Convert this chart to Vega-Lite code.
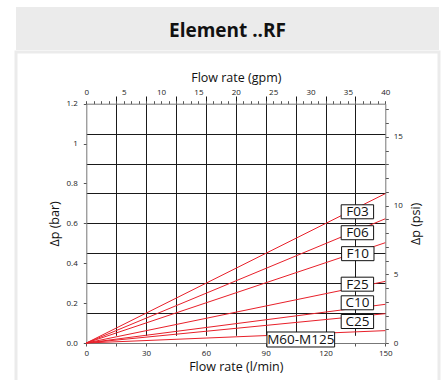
{
  "$schema": "https://vega.github.io/schema/vega-lite/v6.json",
  "padding": {"left": 14, "top": 7, "right": 8, "bottom": 0},
  "background": "white",
  "spacing": 0,
  "config": {
    "font": "Open Sans",
    "view": {"stroke": null},
    "axis": {
      "labelFont": "Open Sans", "labelFontSize": 8, "labelColor": "#222",
      "titleFont": "Open Sans", "titleFontSize": 12.5, "titleFontWeight": "normal", "titleColor": "#111",
      "domainColor": "#777", "tickColor": "#555", "tickSize": 3, "gridColor": "#1a1a1a", "gridWidth": 1,
      "labelOverlap": false, "labelFlush": false, "labelBound": false
    }
  },
  "datasets": {
    "lines": [
      {"series": "F03", "q": 0, "dp": 0}, {"series": "F03", "q": 150, "dp": 0.749},
      {"series": "F06", "q": 0, "dp": 0}, {"series": "F06", "q": 150, "dp": 0.623},
      {"series": "F10", "q": 0, "dp": 0}, {"series": "F10", "q": 150, "dp": 0.503},
      {"series": "F25", "q": 0, "dp": 0}, {"series": "F25", "q": 150, "dp": 0.309},
      {"series": "C10", "q": 0, "dp": 0}, {"series": "C10", "q": 150, "dp": 0.194},
      {"series": "C25", "q": 0, "dp": 0}, {"series": "C25", "q": 150, "dp": 0.147},
      {"series": "M60-M125", "q": 0, "dp": 0}, {"series": "M60-M125", "q": 150, "dp": 0.062}
    ],
    "labels": [
      {"label": "F03", "q": 136, "dp": 0.658},
      {"label": "F06", "q": 136, "dp": 0.553},
      {"label": "F10", "q": 136.2, "dp": 0.448},
      {"label": "F25", "q": 136, "dp": 0.295},
      {"label": "C10", "q": 136, "dp": 0.2016},
      {"label": "C25", "q": 136, "dp": 0.1078},
      {"label": "M60-M125", "q": 107.6, "dp": 0.0176}
    ],
    "title": [{"title": "Element ..RF"}],
    "anchor": [{"gpm": 0, "psi": 0, "q": 0, "dp": 0}]
  },
  "vconcat": [
    {
      "width": 423, "height": 43,
      "view": {"fill": "#ebebeb", "stroke": null},
      "data": {"name": "title"},
      "mark": {"type": "text", "font": "Open Sans", "fontSize": 19, "fontWeight": "bold", "color": "#111", "dy": 2},
      "encoding": {"text": {"field": "title", "type": "nominal"}}
    },
    {
      "width": 423, "height": 335,
      "view": {"fill": "white", "stroke": "#ebebeb", "strokeWidth": 3},
      "layer": [
        {
          "data": {"name": "anchor"},
          "mark": {"type": "point", "opacity": 0},
          "encoding": {
            "x": {"field": "q", "type": "quantitative",
              "scale": {"domain": [0, 150], "range": [70.3, 369.3], "nice": false, "zero": false},
              "axis": null},
            "y": {"field": "dp", "type": "quantitative",
              "scale": {"domain": [0, 1.2], "range": [291, 51.7], "nice": false, "zero": false},
              "axis": {"orient": "left", "offset": -70.3, "title": null,
                "values": [0.15,0.3,0.45,0.6,0.75,0.9,1.05],
                "labels": false, "ticks": false, "domain": false, "grid": true}}
          }
        },
        {
          "layer": [
            {
              "data": {"name": "lines"},
              "mark": {"type": "line", "color": "#e8202a", "strokeWidth": 1},
              "encoding": {
                "x": {"field": "q", "type": "quantitative",
                  "scale": {"domain": [0, 150], "range": [70.3, 369.3], "nice": false, "zero": false},
                  "axis": {"orient": "bottom", "offset": -44, "title": "Flow rate (l/min)",
                    "values": [0,7.5,15,22.5,30,37.5,45,52.5,60,67.5,75,82.5,90,97.5,105,112.5,120,127.5,135,142.5,150],
                    "labelExpr": "datum.value % 30 === 0 ? datum.label : ''",
                    "grid": true,
                    "gridOpacity": {"condition": {"test": "datum.value % 15 === 0 && datum.value > 0 && datum.value < 150", "value": 1}, "value": 0},
                    "labelPadding": 3, "titlePadding": 3}},
                "y": {"field": "dp", "type": "quantitative",
                  "scale": {"domain": [0, 1.2], "range": [291, 51.7], "nice": false, "zero": false},
                  "axis": {"orient": "left", "offset": -70.3, "title": "Δp (bar)",
                    "values": [0,0.1,0.2,0.3,0.4,0.5,0.6,0.7,0.8,0.9,1,1.1,1.2],
                    "labelExpr": "round(datum.value*10) % 2 === 0 ? (datum.value === 0 ? '0.0' : (datum.value === 1 ? '1' : format(datum.value, '.1f'))) : ''",
                    "grid": false,
                    "labelPadding": 6, "titlePadding": 5}},
                "detail": {"field": "series", "type": "nominal"}
              }
            },
            {
              "data": {"name": "labels"},
              "transform": [{"filter": "datum.label !== 'M60-M125'"}],
              "mark": {"type": "point", "shape": "M-1,-0.432H1V0.432H-1Z", "size": 1050, "filled": true, "fill": "white", "stroke": "#111", "strokeWidth": 1, "opacity": 1},
              "encoding": {
                "x": {"field": "q", "type": "quantitative"},
                "y": {"field": "dp", "type": "quantitative"}
              }
            },
            {
              "data": {"name": "labels"},
              "transform": [{"filter": "datum.label === 'M60-M125'"}],
              "mark": {"type": "point", "shape": "M-1,-0.2216H1V0.2216H-1Z", "size": 4583, "filled": true, "fill": "white", "stroke": "#111", "strokeWidth": 1, "opacity": 1},
              "encoding": {
                "x": {"field": "q", "type": "quantitative"},
                "y": {"field": "dp", "type": "quantitative"}
              }
            },
            {
              "data": {"name": "labels"},
              "mark": {"type": "text", "font": "Open Sans", "fontSize": 13.5, "color": "#111", "align": "center", "baseline": "middle", "dy": 0.5},
              "encoding": {
                "x": {"field": "q", "type": "quantitative"},
                "y": {"field": "dp", "type": "quantitative"},
                "text": {"field": "label", "type": "nominal"}
              }
            }
          ]
        },
        {
          "data": {"name": "anchor"},
          "mark": {"type": "point", "opacity": 0},
          "encoding": {
            "x": {"field": "gpm", "type": "quantitative",
              "scale": {"domain": [0, 40], "range": [70.3, 369.3], "nice": false, "zero": false},
              "axis": {"orient": "top", "offset": -51.7, "title": "Flow rate (gpm)",
                "values": [0,1,2,3,4,5,6,7,8,9,10,11,12,13,14,15,16,17,18,19,20,21,22,23,24,25,26,27,28,29,30,31,32,33,34,35,36,37,38,39,40],
                "labelExpr": "datum.value % 5 === 0 ? datum.label : ''",
                "grid": false, "labelPadding": 4, "titlePadding": 4}},
            "y": {"field": "psi", "type": "quantitative",
              "scale": {"domain": [0, 17.4046], "range": [291, 51.7], "nice": false, "zero": false},
              "axis": {"orient": "right", "offset": -53.7, "title": "Δp (psi)", "titleAngle": 270, "titleBaseline": "top",
                "values": [0,1,2,3,4,5,6,7,8,9,10,11,12,13,14,15,16,17],
                "labelExpr": "datum.value % 5 === 0 ? datum.label : ''",
                "grid": false, "labelPadding": 5, "titlePadding": 7}}
          }
        }
      ],
      "resolve": {"scale": {"x": "independent", "y": "independent"}, "axis": {"x": "independent", "y": "independent"}}
    }
  ]
}
